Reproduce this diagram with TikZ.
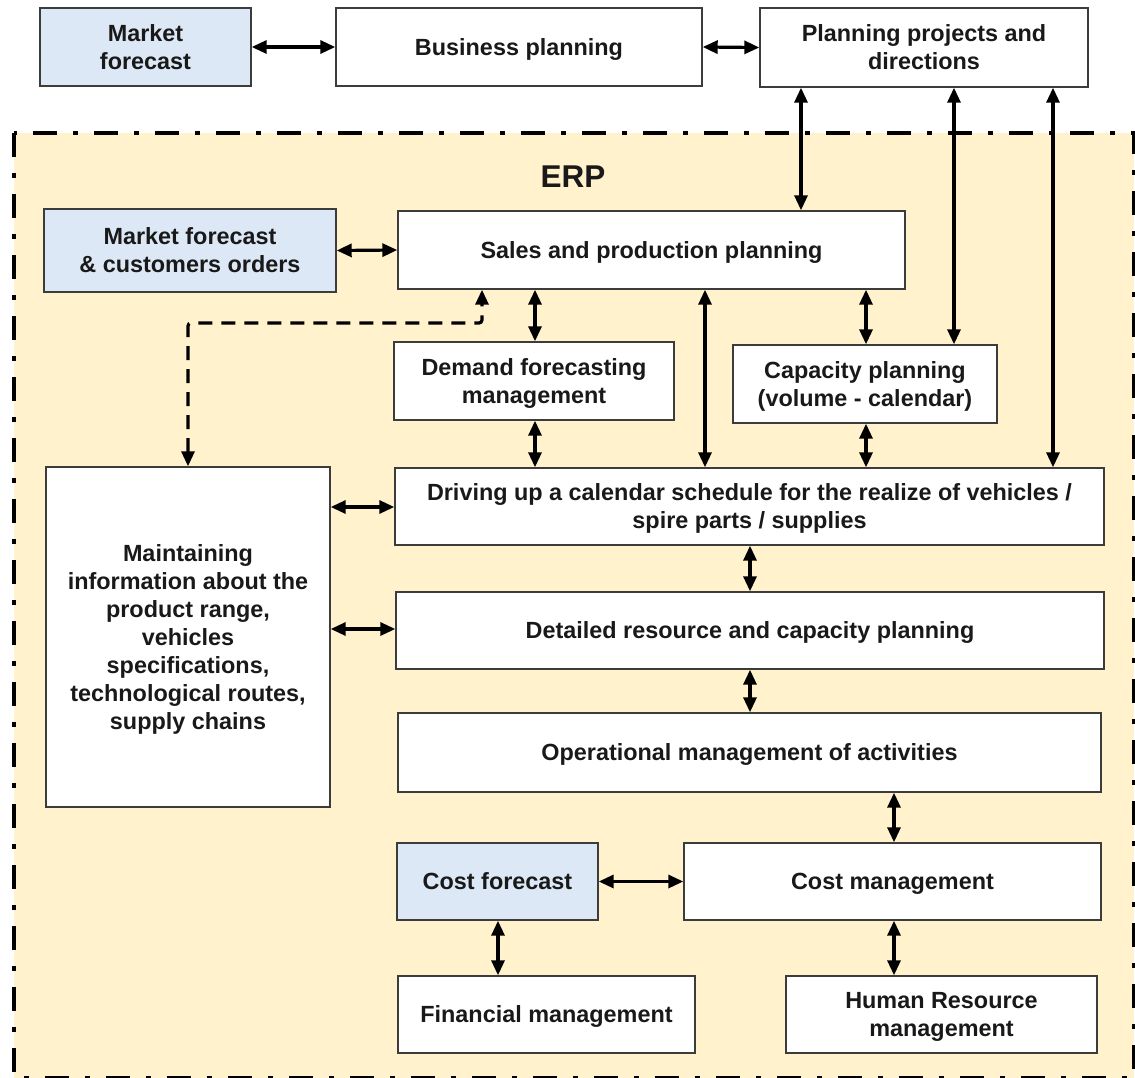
\documentclass[tikz,border=0pt]{standalone}
\usepackage{fontspec}
\setmainfont{Liberation Sans}
\usetikzlibrary{arrows.meta}

\definecolor{erpfill}{RGB}{255,242,204}
\definecolor{bluefill}{RGB}{220,232,245}
\definecolor{boxline}{RGB}{60,60,60}
\definecolor{inktext}{RGB}{25,25,25}

\tikzset{
  box/.style={draw=boxline, line width=1.4pt, fill=white, align=center,
    inner sep=0pt, text=inktext, text depth=0pt,
    font=\fontsize{23.4}{28}\selectfont\bfseries},
  bluebox/.style={box, fill=bluefill},
  conn/.style={line width=3.2pt, black,
    {Triangle[length=15pt,width=13pt]}-{Triangle[length=15pt,width=13pt]}},
  dconn/.style={conn, dash pattern=on 14pt off 9pt},
  erpframe/.style={line width=4pt, black,
    dash pattern=on 24pt off 16pt on 5pt off 16pt}
}

\begin{document}
\begin{tikzpicture}[x=1pt,y=-1pt]
\useasboundingbox (0,0) rectangle (1135,1077);

% ERP area
\fill[erpfill] (14,133) rectangle (1134,1078);
\draw[erpframe] (14,133) rectangle (1134,1078);
\node[text=inktext, font=\fontsize{31.5}{36}\selectfont\bfseries] (erp) at (573,177) {ERP};

% outer row
\node[bluebox, minimum width=211pt, minimum height=78pt] (mf)  at (145.5,47) {Market\\forecast};
\node[box, minimum width=366pt, minimum height=78pt] (bp)  at (519,47) {Business planning};
\node[box, minimum width=328pt, minimum height=79pt] (ppd) at (924,47.5) {Planning projects and\\directions};

% ERP modules
\node[bluebox, minimum width=292pt, minimum height=83pt] (mfc) at (190,250.5) {Market forecast\\\& customers orders};
\node[box, minimum width=507pt, minimum height=78pt] (spp) at (651.5,250) {Sales and production planning};
\node[box, minimum width=280pt, minimum height=78pt] (dfm) at (534,381) {Demand forecasting\\management};
\node[box, minimum width=264pt, minimum height=78pt] (cap) at (865,384) {Capacity planning\\(volume - calendar)};
\node[box, minimum width=709pt, minimum height=77pt] (drv) at (749.5,506.5) {Driving up a calendar schedule for the realize of vehicles /\\spire parts / supplies};
\node[box, minimum width=708pt, minimum height=77pt] (det) at (750,630.5) {Detailed resource and capacity planning};
\node[box, minimum width=703pt, minimum height=79pt] (ops) at (749.5,752.5) {Operational management of activities};
\node[box, minimum width=284pt, minimum height=340pt] (mnt) at (188,637) {Maintaining\\information about the\\product range,\\vehicles\\specifications,\\technological routes,\\supply chains};
\node[bluebox, minimum width=201pt, minimum height=77pt] (cf) at (497.5,881.5) {Cost forecast};
\node[box, minimum width=417pt, minimum height=77pt] (cm) at (892.5,881.5) {Cost management};
\node[box, minimum width=297pt, minimum height=77pt] (fin) at (546.5,1014.5) {Financial management};
\node[box, minimum width=311pt, minimum height=77pt] (hr) at (941.5,1014.5) {Human Resource\\management};

% column guides for vertical connectors
\coordinate (c482) at (482,0);
\coordinate (c498) at (498,0);
\coordinate (c535) at (535,0);
\coordinate (c705) at (705,0);
\coordinate (c750) at (750,0);
\coordinate (c801) at (801,0);
\coordinate (c866) at (866,0);
\coordinate (c894) at (894,0);
\coordinate (c954) at (954,0);
\coordinate (c1053) at (1053,0);
\coordinate (r323) at (0,323);
\coordinate (r507) at (0,507);
\coordinate (r629) at (0,629);

% connectors
\draw[conn] (mf.east) -- (bp.west);
\draw[conn] (bp.east) -- (ppd.west);
\draw[conn] (ppd.south -| c801) -- (spp.north -| c801);
\draw[conn] (ppd.south -| c954) -- (cap.north -| c954);
\draw[conn] (ppd.south -| c1053) -- (drv.north -| c1053);
\draw[conn] (mfc.east) -- (spp.west);
\draw[conn] (spp.south -| c535) -- (dfm.north -| c535);
\draw[conn] (spp.south -| c705) -- (drv.north -| c705);
\draw[conn] (spp.south -| c866) -- (cap.north -| c866);
\draw[conn] (dfm.south -| c535) -- (drv.north -| c535);
\draw[conn] (cap.south -| c866) -- (drv.north -| c866);
\draw[conn] (mnt.east |- r507) -- (drv.west |- r507);
\draw[conn] (mnt.east |- r629) -- (det.west |- r629);
\draw[conn] (drv.south -| c750) -- (det.north -| c750);
\draw[conn] (det.south -| c750) -- (ops.north -| c750);
\draw[conn] (ops.south -| c894) -- (cm.north -| c894);
\draw[conn] (cf.east) -- (cm.west);
\draw[conn] (cf.south -| c498) -- (fin.north -| c498);
\draw[conn] (cm.south -| c894) -- (hr.north -| c894);
\draw[dconn, rounded corners=3pt] (mnt.north) -- (mnt.north |- r323) -- (c482 |- r323) -- (spp.south -| c482);
\end{tikzpicture}
\end{document}
